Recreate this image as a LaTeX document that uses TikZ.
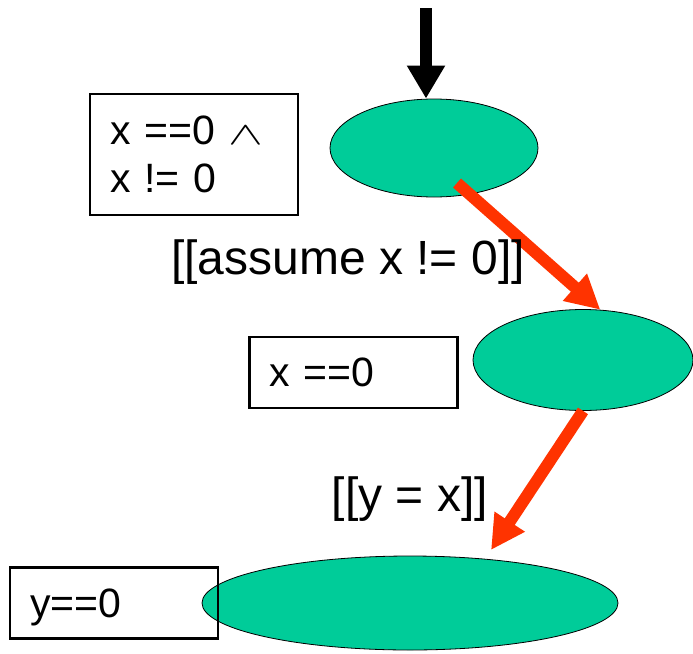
\documentclass[tikz,border=0pt]{standalone}
\usepackage{fontspec}
\setmainfont{Liberation Sans}
\usepackage{amsmath,amssymb}
\usepackage{xcolor}
\usetikzlibrary{positioning, arrows.meta, shapes.geometric}

\definecolor{setgreen}{RGB}{0,204,153}
\definecolor{flowred}{RGB}{255,51,0}

\begin{document}
\begin{tikzpicture}[x=1pt, y=-1pt, on grid,
    stateset/.style={ellipse, draw, line width=0.8pt, fill=setgreen, inner sep=0pt},
    fact/.style={draw, line width=2.5pt, minimum width=208pt, text width=168pt,
      inner xsep=20pt, align=left, font=\fontsize{41}{48}\selectfont},
    flow/.style={draw=flowred, line width=12pt, -{Triangle[length=34pt, width=34pt]}},
    lbl/.style={font=\fontsize{48}{56}\selectfont, inner sep=0pt}]
    \useasboundingbox (0,0) rectangle (693,653);

    % Sets of states
    \node[stateset, minimum width=208pt, minimum height=98pt]  (e1) at (434,148) {};
    \node[stateset, minimum width=220pt, minimum height=101pt,
          below right=212pt and 149pt of e1]                    (e2) {};
    \node[stateset, minimum width=416pt, minimum height=94pt,
          below left=243pt and 173pt of e2]                     (e3) {};

    % Facts
    \node[fact, minimum height=121pt, left=240pt of e1, yshift=-6.5pt] (f1) {x ==0 \scalebox{2.1}[1.3]{$\wedge$}\\x != 0};
    \node[fact, minimum height=71pt, left=229.5pt of e2, yshift=-12.5pt] (f2) {x ==0};
    \node[fact, minimum height=71pt, text depth=0pt, left=296pt of e3] (f3) {y==0};

    % Transitions
    \coordinate (in) at (426,8);
    \coordinate (a1) at (457,183);
    \coordinate (t2) at (491,550);
    \draw[line width=12pt, -{Triangle[length=33pt, width=36pt]}] (in) -- (in |- e1.north);
    \draw[flow] (a1) -- (e2.71);
    \draw[flow] (e2.south) -- (t2);

    % Statements
    \node[lbl] (l1) at (348,262) {[[assume x != 0]]};
    \node[lbl] (l2) at (410,499) {[[y = x]]};
\end{tikzpicture}
\end{document}
